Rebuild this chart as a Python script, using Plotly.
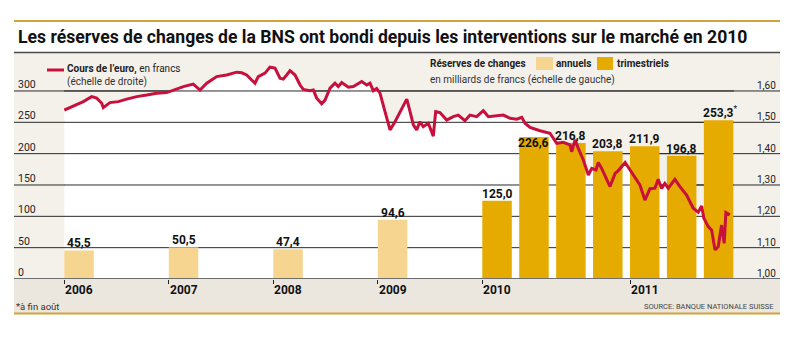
import plotly.graph_objects as go

# ---------------- data ----------------
annual_years = [2006, 2007, 2008, 2009]
annual_reserves = [45.5, 50.5, 47.4, 94.6]

quarter_starts = [2010.0, 2010.25, 2010.5, 2010.75, 2011.0, 2011.25, 2011.5]
quarter_reserves = [125.0, 226.6, 216.8, 203.8, 211.9, 196.8, 253.3]
quarter_notes = ["", "", "", "", "", "", "*"]

year_ticks = [2006, 2007, 2008, 2009, 2010, 2011]
left_ticks = [0, 50, 100, 150, 200, 250, 300]
right_ticks = [1.00, 1.10, 1.20, 1.30, 1.40, 1.50, 1.60]

euro_t = [2006.000, 2006.086, 2006.182, 2006.262, 2006.310, 2006.358, 2006.373, 2006.437,
          2006.517, 2006.597, 2006.693, 2006.789, 2006.884, 2006.980, 2007.059, 2007.139,
          2007.234, 2007.299, 2007.363, 2007.458, 2007.554, 2007.650, 2007.698, 2007.745,
          2007.793, 2007.825, 2007.856, 2007.921, 2007.968, 2008.016, 2008.064, 2008.096,
          2008.128, 2008.160, 2008.208, 2008.256, 2008.287, 2008.351, 2008.383, 2008.415,
          2008.463, 2008.495, 2008.543, 2008.590, 2008.622, 2008.655, 2008.718, 2008.766,
          2008.846, 2008.894, 2008.925, 2008.957, 2008.989, 2009.021, 2009.069, 2009.117,
          2009.165, 2009.212, 2009.277, 2009.308, 2009.340, 2009.372, 2009.404, 2009.435,
          2009.483, 2009.531, 2009.554, 2009.595, 2009.659, 2009.722, 2009.770, 2009.834,
          2009.882, 2009.946, 2010.007, 2010.041, 2010.086, 2010.142, 2010.188, 2010.233,
          2010.267, 2010.289, 2010.323, 2010.391, 2010.458, 2010.504, 2010.548, 2010.594,
          2010.605, 2010.628, 2010.650, 2010.684, 2010.718, 2010.741, 2010.770, 2010.785,
          2010.808, 2010.842, 2010.865, 2010.899, 2010.921, 2010.967, 2011.000, 2011.045,
          2011.067, 2011.101, 2011.135, 2011.169, 2011.191, 2011.214, 2011.236, 2011.259,
          2011.304, 2011.338, 2011.383, 2011.428, 2011.462, 2011.485, 2011.500, 2011.530,
          2011.553, 2011.575, 2011.597, 2011.620, 2011.638, 2011.649, 2011.676]
euro_rate = [1.539, 1.552, 1.566, 1.582, 1.577, 1.561, 1.547, 1.563,
             1.566, 1.574, 1.582, 1.587, 1.593, 1.595, 1.605, 1.614,
             1.622, 1.603, 1.625, 1.646, 1.651, 1.660, 1.658, 1.651,
             1.635, 1.625, 1.646, 1.657, 1.676, 1.673, 1.641, 1.638,
             1.651, 1.665, 1.651, 1.619, 1.605, 1.601, 1.603, 1.577,
             1.559, 1.571, 1.609, 1.625, 1.614, 1.627, 1.612, 1.614,
             1.630, 1.619, 1.625, 1.601, 1.608, 1.593, 1.534, 1.476,
             1.502, 1.534, 1.574, 1.535, 1.492, 1.476, 1.502, 1.486,
             1.497, 1.456, 1.534, 1.531, 1.507, 1.518, 1.523, 1.505,
             1.523, 1.518, 1.537, 1.518, 1.520, 1.523, 1.513, 1.510,
             1.516, 1.497, 1.484, 1.473, 1.465, 1.433, 1.436, 1.428,
             1.406, 1.444, 1.417, 1.380, 1.332, 1.353, 1.348, 1.372,
             1.353, 1.321, 1.295, 1.337, 1.346, 1.372, 1.348, 1.316,
             1.300, 1.252, 1.288, 1.290, 1.318, 1.289, 1.305, 1.290,
             1.318, 1.295, 1.268, 1.226, 1.213, 1.233, 1.194, 1.167,
             1.156, 1.093, 1.103, 1.172, 1.114, 1.212, 1.205]

# ---------------- style ----------------
W, H = 800, 337
ML, MR, MT, MB = 64, 66, 53, 58
PW, PH = W - ML - MR, H - MT - MB
LEFT_MAX = 360.6
RATE_MIN = 1.0
RATE_PER_LEFT = 1.0 / 500.0

PANEL = "#f4f1eb"
STRIP = "#ece7de"
GOLD_LINE = "#d3a23a"
ANNUAL = "#f6d591"
QUARTER = "#e6ab00"
RED = "#c8103c"
GRID = "#2b2b2b"
FONT = "Roboto, Liberation Sans, sans-serif"
BAR_W = 29.5
X_RANGE = [-0.3, PW - 0.3]


def u(t):
    """Chart's time axis: 104.5 units per year up to 2010, 147.7 afterwards."""
    if t < 2010:
        return (t - 2006) * 104.5
    return 418 + (t - 2010) * 147.7


def u_paper(val):
    return (val - X_RANGE[0]) / (X_RANGE[1] - X_RANGE[0])


def px_x(px):
    return (px - ML) / PW


def px_y(py):
    return (H - MB - py) / PH


def to_left(r):
    return (r - RATE_MIN) / RATE_PER_LEFT


fmt = lambda v: f"{v:.1f}".replace(".", ",")

fig = go.Figure()

# white area under the euro curve (main subplot)
fig.add_trace(go.Scatter(
    x=[u(t) for t in euro_t], y=[to_left(r) for r in euro_rate],
    mode="lines", line=dict(width=0, color="rgba(0,0,0,0)"),
    fill="tozeroy", fillcolor="white", hoverinfo="skip", xaxis="x", yaxis="y"))

# gridlines inside plot (above white area, below bars)
gx, gy = [], []
for v in left_ticks[1:]:
    gx += [X_RANGE[0], X_RANGE[1], None]
    gy += [v, v, None]
fig.add_trace(go.Scatter(x=gx, y=gy, mode="lines", line=dict(color=GRID, width=1),
                         hoverinfo="skip", xaxis="x", yaxis="y"))

# bars (overlay subplot y2)
fig.add_trace(go.Bar(x=[u(t) for t in annual_years], y=annual_reserves, width=BAR_W, offset=0,
                     marker=dict(color=ANNUAL, line=dict(width=0)), xaxis="x", yaxis="y2"))
fig.add_trace(go.Bar(x=[u(t) for t in quarter_starts], y=quarter_reserves, width=BAR_W, offset=0,
                     marker=dict(color=QUARTER, line=dict(width=0)), xaxis="x", yaxis="y2"))

# euro line (overlay subplot y3)
fig.add_trace(go.Scatter(x=[u(t) for t in euro_t], y=euro_rate, mode="lines",
                         line=dict(color=RED, width=3), xaxis="x", yaxis="y3"))

shapes = []
shapes.append(dict(type="rect", xref="paper", yref="paper", x0=px_x(14), x1=px_x(780),
                   y0=px_y(279), y1=px_y(53), fillcolor=PANEL, line_width=0, layer="below"))
shapes.append(dict(type="rect", xref="paper", yref="paper", x0=px_x(14), x1=px_x(780),
                   y0=px_y(313), y1=px_y(279), fillcolor=STRIP, line_width=0, layer="below"))
for v in left_ticks[1:]:
    shapes.append(dict(type="line", xref="paper", yref="y", x0=px_x(14), x1=px_x(780),
                       y0=v, y1=v, line=dict(color=GRID, width=1), layer="below"))
shapes.append(dict(type="line", xref="paper", yref="y", x0=px_x(14), x1=px_x(780),
                   y0=0, y1=0, line=dict(color="#6e6e6e", width=2), layer="above"))
shapes.append(dict(type="line", xref="paper", yref="paper", x0=px_x(14), x1=px_x(780),
                   y0=px_y(21), y1=px_y(21), line=dict(color=GOLD_LINE, width=2)))
shapes.append(dict(type="line", xref="paper", yref="paper", x0=px_x(14), x1=px_x(780),
                   y0=px_y(313.5), y1=px_y(313.5), line=dict(color=GOLD_LINE, width=2)))
shapes.append(dict(type="line", xref="paper", yref="paper", x0=px_x(14), x1=px_x(780),
                   y0=px_y(52.5), y1=px_y(52.5), line=dict(color="#4a4a4a", width=1.5)))
shapes.append(dict(type="line", xref="paper", yref="paper", x0=px_x(47), x1=px_x(64),
                   y0=px_y(70), y1=px_y(70), line=dict(color=RED, width=3)))
shapes.append(dict(type="rect", xref="paper", yref="paper", x0=px_x(536), x1=px_x(553),
                   y0=px_y(70), y1=px_y(57), fillcolor=ANNUAL, line_width=0))
shapes.append(dict(type="rect", xref="paper", yref="paper", x0=px_x(597), x1=px_x(613),
                   y0=px_y(70), y1=px_y(57), fillcolor=QUARTER, line_width=0))

ann = []


def text(px, py, s, size, xanchor="left", yanchor="middle", color="#222", xref="paper",
         yref="paper", x=None, y=None, **kw):
    ann.append(dict(x=px_x(px) if x is None else x, y=px_y(py) if y is None else y,
                    xref=xref, yref=yref, text=s, showarrow=False, xanchor=xanchor, yanchor=yanchor,
                    font=dict(family=FONT, size=size, color=color), **kw))


# title
text(16, 37, "<b>Les réserves de changes de la BNS ont bondi depuis les interventions sur le marché en 2010</b>",
     17.6, color="#111")
# legends
text(65, 69.5, "<b>Cours de l’euro,</b> en francs", 10)
text(65, 81.5, "(échelle de droite)", 10, color="#333")
text(428, 64, "<b>Réserves de changes</b>", 10)
text(554, 64, "<b>annuels</b>", 10)
text(615, 64, "<b>trimestriels</b>", 10)
text(428, 80, "en milliards de francs (échelle de gauche)", 10, color="#333")

for v in left_ticks:
    text(16, 0, str(v), 10.5, yanchor="bottom", yref="y", y=v, color="#222", yshift=-2)
for r in right_ticks:
    text(778, 0, f"{r:.2f}".replace(".", ","), 10, xanchor="right", yanchor="bottom",
         yref="y", y=to_left(r), color="#222", yshift=-2)
for yv in year_ticks:
    text(0, 290, f"<b>{yv}</b>", 12, x=u_paper(u(yv)), color="#111", xshift=-1)

for t, v in zip(annual_years, annual_reserves):
    text(0, 0, f"<b>{fmt(v)}</b>", 12, xanchor="center", yanchor="bottom", xref="x", yref="y",
         x=u(t) + BAR_W / 2, y=v, color="#111", yshift=-2)
for i, (t, v, n) in enumerate(zip(quarter_starts, quarter_reserves, quarter_notes)):
    dy = -15 if i == 1 else -2
    label = f"<b>{fmt(v)}</b>" + (f"<sup>{n}</sup>" if n else "")
    text(0, 0, label, 12, xanchor="center", yanchor="bottom", xref="x", yref="y",
         x=u(t) + BAR_W / 2 + (2 if n else 0), y=v, color="#111", yshift=dy)

text(14, 306, "*à fin août", 9.5, color="#333")
text(776, 306, "SOURCE: BANQUE NATIONALE SUISSE", 7.5, xanchor="right", color="#444")

fig.update_layout(
    width=W, height=H, margin=dict(l=ML, r=MR, t=MT, b=MB, pad=0),
    paper_bgcolor="white", plot_bgcolor="rgba(0,0,0,0)",
    showlegend=False, barmode="overlay",
    shapes=shapes, annotations=ann,
    xaxis=dict(range=X_RANGE, showgrid=False, zeroline=False, showline=False,
               ticks="outside", ticklen=4, tickwidth=1, tickcolor="#222",
               tickvals=[u(t) for t in year_ticks], showticklabels=False, fixedrange=True),
    yaxis=dict(range=[0, LEFT_MAX], visible=False, fixedrange=True),
    yaxis2=dict(range=[0, LEFT_MAX], overlaying="y", visible=False, fixedrange=True),
    yaxis3=dict(range=[RATE_MIN, RATE_MIN + LEFT_MAX * RATE_PER_LEFT], overlaying="y",
                visible=False, fixedrange=True),
)

fig.write_html("out.html")
